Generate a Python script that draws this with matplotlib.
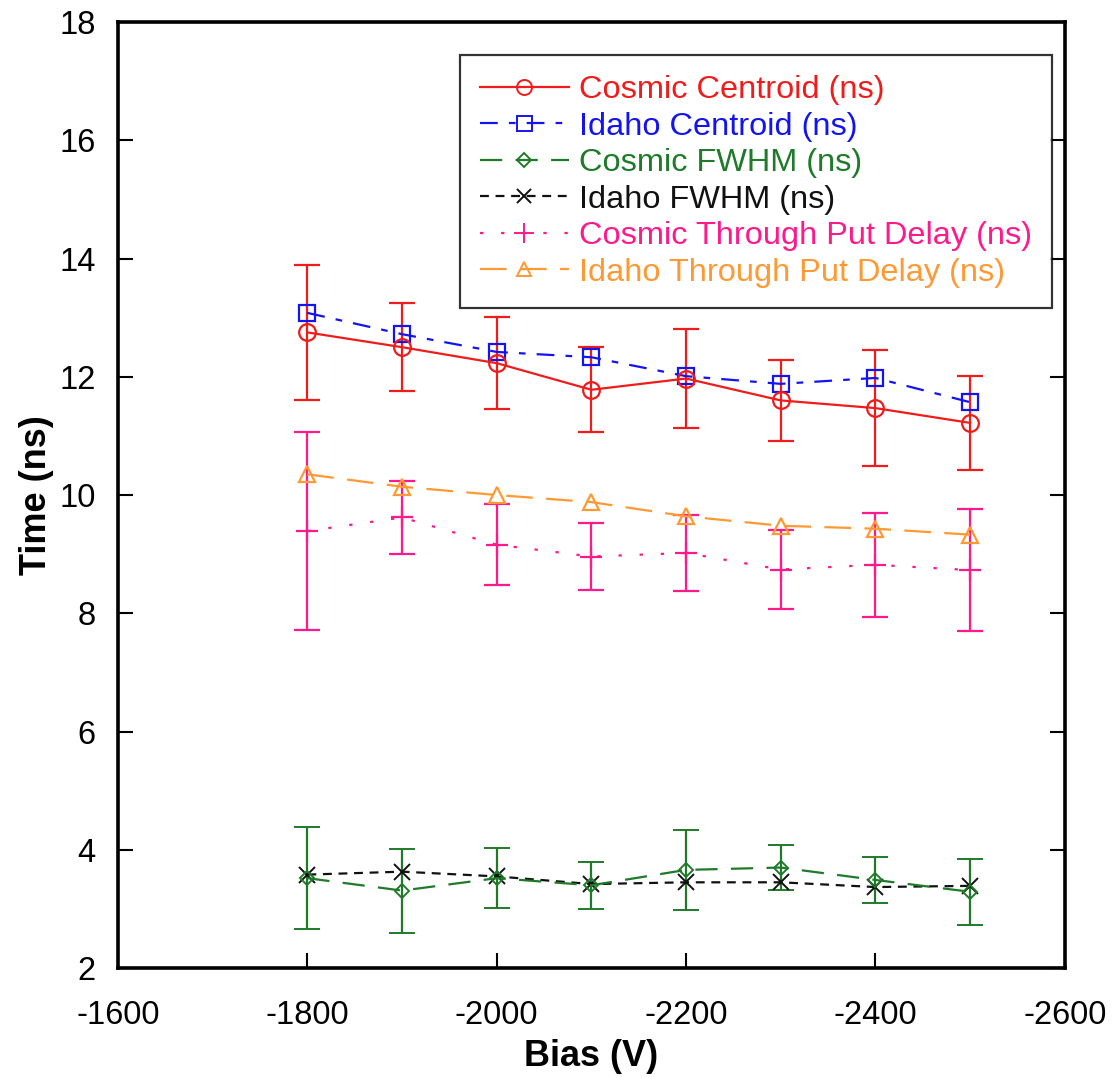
import matplotlib
matplotlib.use("Agg")
import matplotlib.pyplot as plt
from matplotlib.lines import Line2D

plt.rcParams['font.family'] = ['Liberation Sans', 'DejaVu Sans']
plt.rcParams['axes.unicode_minus'] = False

bias = [-1800, -1900, -2000, -2100, -2200, -2300, -2400, -2500]

cosmic_centroid = [12.75, 12.50, 12.23, 11.78, 11.97, 11.60, 11.47, 11.22]
cosmic_centroid_err = [1.14, 0.74, 0.78, 0.72, 0.84, 0.69, 0.98, 0.80]

idaho_centroid = [13.08, 12.72, 12.42, 12.33, 12.01, 11.88, 11.98, 11.57]

cosmic_fwhm = [3.52, 3.31, 3.52, 3.40, 3.66, 3.70, 3.49, 3.29]
cosmic_fwhm_err = [0.86, 0.71, 0.51, 0.40, 0.67, 0.38, 0.39, 0.56]

idaho_fwhm = [3.58, 3.63, 3.55, 3.42, 3.45, 3.45, 3.37, 3.39]

cosmic_tpd = [9.39, 9.62, 9.16, 8.96, 9.02, 8.74, 8.82, 8.73]
cosmic_tpd_err = [1.68, 0.62, 0.69, 0.56, 0.65, 0.66, 0.88, 1.03]

idaho_tpd = [10.35, 10.14, 10.00, 9.88, 9.64, 9.48, 9.43, 9.33]

labels = ["Cosmic Centroid (ns)", "Idaho Centroid (ns)", "Cosmic FWHM (ns)",
          "Idaho FWHM (ns)", "Cosmic Through Put Delay (ns)", "Idaho Through Put Delay (ns)"]
colors = ["#f01c1c", "#1414f0", "#1f7a2a", "#111111", "#ff1a8c", "#ff9933"]

fig = plt.figure(figsize=(11.19, 10.78), dpi=100)
ax = fig.add_axes([0.1055, 0.102, 0.846, 0.8776])

lw = 1.6
cap = 9.5
styles = ['-', (0, (8, 5, 3, 5)), (0, (10, 6)), (0, (4, 3)), (0, (1.5, 8)), (0, (12, 6))]
markers = ['o', 's', 'D', 'x', '+', '^']
msizes = [12, 12, 7.5, 11, 16, 11]

ax.errorbar(bias, cosmic_centroid, yerr=cosmic_centroid_err, color=colors[0], lw=lw,
            marker=markers[0], ms=msizes[0], mfc='none', mew=1.6, capsize=cap,
            elinewidth=lw, capthick=lw, ls=styles[0])
ax.plot(bias, idaho_centroid, color=colors[1], lw=lw, ls=styles[1],
        marker=markers[1], ms=msizes[1], mfc='none', mew=1.6)
ax.errorbar(bias, cosmic_fwhm, yerr=cosmic_fwhm_err, color=colors[2], lw=lw,
            marker=markers[2], ms=msizes[2], mfc='none', mew=1.4, capsize=cap,
            elinewidth=lw, capthick=lw, ls=styles[2])
ax.plot(bias, idaho_fwhm, color=colors[3], lw=lw, ls=styles[3],
        marker=markers[3], ms=msizes[3], mew=1.4)
ax.errorbar(bias, cosmic_tpd, yerr=cosmic_tpd_err, color=colors[4], lw=lw,
            marker=markers[4], ms=msizes[4], mew=1.6, capsize=cap,
            elinewidth=lw, capthick=lw, ls=styles[4])
ax.plot(bias, idaho_tpd, color=colors[5], lw=lw, ls=styles[5],
        marker=markers[5], ms=msizes[5], mfc='none', mew=1.6)

ax.set_xlim(-1600, -2600)
ax.set_ylim(2, 18)
ax.set_xticks(range(-1600, -2601, -200))
ax.set_yticks(range(2, 19, 2))
ax.tick_params(direction='in', length=11, width=1.5, top=False, right=True,
               labelsize=23.5)
ax.tick_params(axis='y', pad=16)
ax.tick_params(axis='x', pad=23)
for s in ax.spines.values():
    s.set_linewidth(2.6)

ax.set_xlabel("Bias (V)", fontsize=26, fontweight='bold', labelpad=6)
ax.set_ylabel("Time (ns)", fontsize=26, fontweight='bold', labelpad=4)

handles = [Line2D([], [], color=c, lw=lw, ls=st, marker=m, ms=ms * 0.9,
                  mfc='none' if m not in ('x', '+') else c, mew=1.4)
           for c, st, m, ms in zip(colors, styles, markers, msizes)]
leg = ax.legend(handles, labels, loc='upper right', bbox_to_anchor=(0.9865, 0.965),
                fontsize=23.4, numpoints=1, frameon=True, fancybox=False,
                edgecolor='black', handlelength=2.75, labelspacing=0.2,
                borderpad=0.62, handletextpad=0.3, borderaxespad=0)
leg.get_frame().set_linewidth(1.6)
for t, c in zip(leg.get_texts(), colors):
    t.set_color(c)

fig.savefig("out.png", dpi=100)
